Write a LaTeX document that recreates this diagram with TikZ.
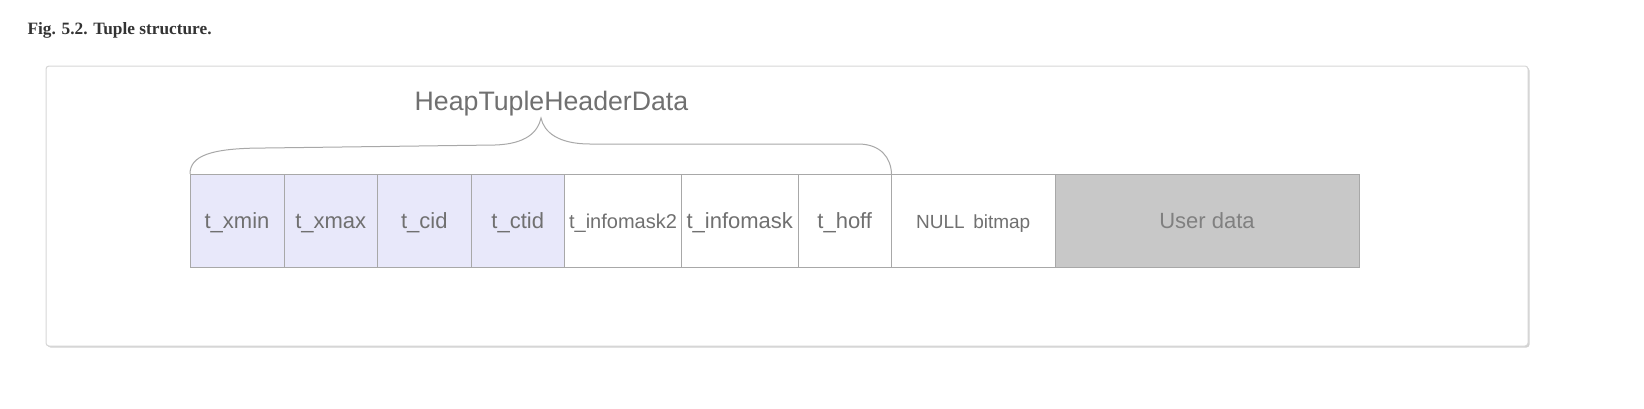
\documentclass[tikz,border=0pt]{standalone}
\usepackage{fontspec}
\setmainfont{Liberation Serif}
\setsansfont{Liberation Sans}
\usepackage{xcolor}
\usetikzlibrary{positioning,shadows}

\definecolor{hdrfill}{RGB}{232,232,250}
\definecolor{userfill}{RGB}{200,200,200}
\definecolor{linegray}{RGB}{168,168,168}
\definecolor{textgray}{RGB}{112,112,112}
\definecolor{usertext}{RGB}{128,128,128}
\definecolor{framegray}{RGB}{214,214,214}
\definecolor{capgray}{RGB}{51,51,51}

\begin{document}
\begin{tikzpicture}[x=1pt,y=-1pt,node distance=0pt,
  cell/.style={draw=linegray,line width=1pt,fill=white,minimum height=93.5pt,
    inner sep=0pt,outer sep=0pt,text height=16pt,text depth=1pt,
    text=textgray,font=\sffamily\fontsize{22}{26}\selectfont},
  hdrcell/.style={cell,fill=hdrfill},
  usercell/.style={cell,fill=userfill,text=usertext},
  brace/.style={draw=linegray,line width=1pt}]
\useasboundingbox (0,0) rectangle (1644,408);

% caption and frame
\node[anchor=west,text=capgray,font=\bfseries\fontsize{17.3}{20}\selectfont] (caption) at (24,30) {Fig. 5.2. Tuple structure.};
\draw[draw=framegray,fill=white,line width=1pt,rounded corners=3pt,
  drop shadow={shadow xshift=1.5pt,shadow yshift=-1.5pt,opacity=0.18,fill=black}]
  (46,66) rectangle (1528,346);

% tuple cells
\node[hdrcell,minimum width=94pt,anchor=north west] (xmin) at (190,174) {t\_xmin};
\node[hdrcell,minimum width=93.5pt,right=of xmin] (xmax) {t\_xmax};
\node[hdrcell,minimum width=93.5pt,right=of xmax] (cid) {t\_cid};
\node[hdrcell,minimum width=93.5pt,right=of cid] (ctid) {t\_ctid};
\node[cell,minimum width=117pt,right=of ctid,font=\sffamily\fontsize{20}{24}\selectfont] (infomasktwo) {t\_infomask2};
\node[cell,minimum width=116.5pt,right=of infomasktwo] (infomask) {t\_infomask};
\node[cell,minimum width=93.5pt,right=of infomask] (hoff) {t\_hoff};
\node[cell,minimum width=163.5pt,right=of hoff,font=\sffamily\fontsize{19}{23}\selectfont] (nullbm) {NULL\hspace{0.45em}bitmap};
\node[usercell,minimum width=304pt,right=of nullbm] (userdata) {User data};

% header brace
\draw[brace] (xmin.north west) .. controls (190,156) and (210,148) .. (265,148)
  -- (495,145) .. controls (526,144) and (538,132) .. (541,118)
  .. controls (544,132) and (558,144) .. (590,144)
  -- (858,144) .. controls (881,144) and (891,158) .. (hoff.north east);
\node[text=textgray,font=\sffamily\fontsize{26.7}{30}\selectfont] (hthd) at (551.5,104) {HeapTupleHeaderData};
\end{tikzpicture}
\end{document}
